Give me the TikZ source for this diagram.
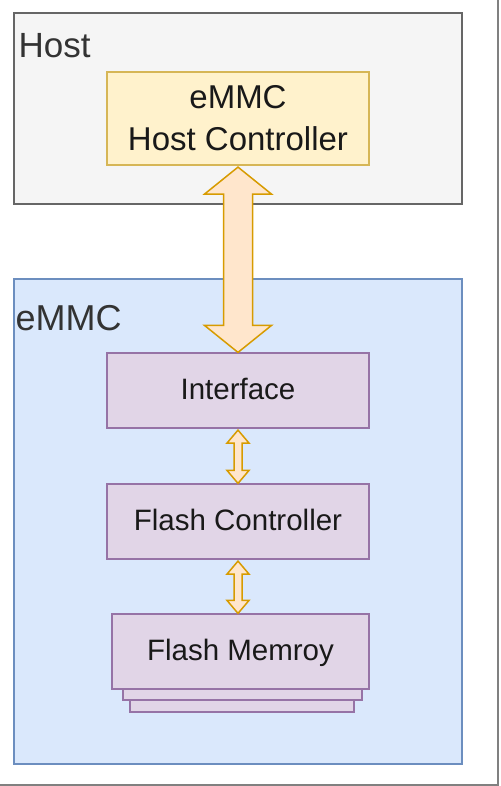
\documentclass[tikz,border=0pt]{standalone}
\usepackage{fontspec}
\setmainfont{Liberation Sans}
\usetikzlibrary{calc}
\usetikzlibrary{positioning}

\definecolor{hostfill}{HTML}{F5F5F5}
\definecolor{hostline}{HTML}{666666}
\definecolor{ctrlfill}{HTML}{FFF2CC}
\definecolor{ctrlline}{HTML}{D6B656}
\definecolor{emmcfill}{HTML}{DAE8FC}
\definecolor{emmcline}{HTML}{6C8EBF}
\definecolor{blockfill}{HTML}{E1D5E7}
\definecolor{blockline}{HTML}{9673A6}
\definecolor{busfill}{HTML}{FFE6CC}
\definecolor{busline}{HTML}{D79B00}

% double headed bus arrow: from, to, shaft half width, head half width, head length
\newcommand{\busarrow}[5]{%
 \draw [bus] let \p1 = ($(#1)+(0,1.5)$), \p2 = (#2) in
  (\x1,\y1) -- ({\x1+#4},{\y1-#5}) -- ({\x1+#3},{\y1-#5})
  -- ({\x2+#3},{\y2+#5}) -- ({\x2+#4},{\y2+#5}) -- (\x2,\y2)
  -- ({\x2-#4},{\y2+#5}) -- ({\x2-#3},{\y2+#5})
  -- ({\x1-#3},{\y1-#5}) -- ({\x1-#4},{\y1-#5}) -- cycle;}

\begin{document}
\begin{tikzpicture}[x=1pt, y=-1pt,
 box/.style={rectangle, line width=1.2pt, inner sep=0pt},
 block/.style={box, fill=blockfill, draw=blockline, minimum width=262pt, minimum height=75pt,
  text=black!90, font=\fontsize{29.5}{36}\selectfont, text height=22pt, text depth=4pt},
 tag/.style={inner sep=0pt, anchor=base west, text=black!80, font=\fontsize{36}{44}\selectfont},
 bus/.style={fill=busfill, draw=busline, line width=1.5pt, line join=miter}]
 \useasboundingbox (0,0) rectangle (500,786);
 \draw [black!50, line width=2pt] (498,0) -- (498,785) -- (0,785);

 % host side
 \node [box, fill=hostfill, draw=hostline, minimum width=448pt, minimum height=191pt] (host) at (238,108.5) {};
 \node [tag, font=\fontsize{35}{42}\selectfont] (hostlabel) at ($(host.north west)+(5,45.5)$) {Host};
 \node [box, fill=ctrlfill, draw=ctrlline, minimum width=262pt, minimum height=93pt,
  align=center, text=black!90, font=\fontsize{33}{42}\selectfont] (hostctrl) at (238,118.5) {eMMC\\Host Controller};

 % device side
 \node [box, fill=emmcfill, draw=emmcline, minimum width=448pt, minimum height=485pt] (emmc) at (238,521.5) {};
 \node [tag] (emmclabel) at ($(emmc.north west)+(2,52)$) {eMMC};
 \node [block] (iface) at (238,390.5) {Interface};
 \node [block] (flashctrl) at (238,521.5) {Flash Controller};
 \node [box, fill=blockfill, draw=blockline, minimum width=224pt, minimum height=12pt] (flashC) at (242,706) {};
 \node [box, fill=blockfill, draw=blockline, minimum width=239pt, minimum height=11pt] (flashB) at (242.5,694.5) {};
 \node [block, minimum width=257pt] (flashmem) at (240.5,651.5) {Flash Memroy};

 \busarrow{hostctrl.south}{iface.north}{14.5}{33.5}{27}
 \busarrow{iface.south}{flashctrl.north}{4}{11}{13}
 \busarrow{flashctrl.south}{flashmem.north -| flashctrl.south}{4}{11}{13}
\end{tikzpicture}
\end{document}
